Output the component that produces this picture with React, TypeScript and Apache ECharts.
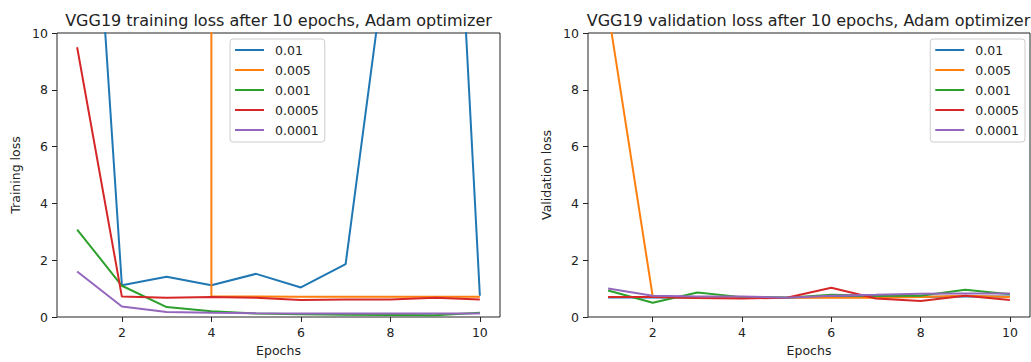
import React, { useEffect, useRef } from "react";
import * as echarts from "echarts";

const epochs = [1, 2, 3, 4, 5, 6, 7, 8, 9, 10];
const rates = ["0.01", "0.005", "0.001", "0.0005", "0.0001"];
const colors = ["#1f77b4", "#ff7f0e", "#2ca02c", "#d62728", "#9467bd"];
const xTicks = [2, 4, 6, 8, 10];

// Training loss per learning rate
const train001 = [25, 1.12, 1.42, 1.12, 1.52, 1.04, 1.86, 13.8, 30.7, 0.75];
const train0005 = [350000, 220000, 120000, 0.72, 0.72, 0.71, 0.71, 0.71, 0.71, 0.71];
const train0001 = [3.08, 1.1, 0.35, 0.2, 0.12, 0.1, 0.08, 0.07, 0.06, 0.15];
const train00005 = [9.5, 0.72, 0.68, 0.7, 0.68, 0.6, 0.62, 0.62, 0.68, 0.62];
const train00001 = [1.6, 0.37, 0.18, 0.15, 0.13, 0.12, 0.12, 0.12, 0.12, 0.12];

// Validation loss per learning rate
const val001 = [0.69, 0.69, 0.69, 0.69, 0.69, 0.7, 0.7, 0.7, 0.72, 0.72];
const val0005 = [10.8, 0.72, 0.68, 0.68, 0.68, 0.68, 0.68, 0.7, 0.75, 0.7];
const val0001 = [0.93, 0.5, 0.86, 0.7, 0.68, 0.78, 0.75, 0.75, 0.96, 0.8];
const val00005 = [0.7, 0.7, 0.67, 0.65, 0.68, 1.03, 0.65, 0.56, 0.75, 0.6];
const val00001 = [1.0, 0.75, 0.72, 0.72, 0.68, 0.75, 0.78, 0.82, 0.83, 0.83];

const trainSeries = [train001, train0005, train0001, train00005, train00001];
const valSeries = [val001, val0005, val0001, val00005, val00001];

const FONT = "DejaVu Sans";
const TXT = "#222";

function makeXAxis(gridIndex: number) {
  return {
    gridIndex,
    type: "value",
    min: 0.55,
    max: 10.45,
    name: "Epochs",
    nameLocation: "middle",
    nameGap: 27,
    nameTextStyle: { fontFamily: FONT, fontSize: 12.5, color: TXT },
    axisLine: { show: false },
    axisTick: { show: true, length: 5, lineStyle: { color: TXT }, customValues: xTicks },
    axisLabel: { customValues: xTicks, fontFamily: FONT, fontSize: 12.5, color: TXT, margin: 9 },
    splitLine: { show: false },
  };
}

function makeYAxis(gridIndex: number, name: string) {
  return {
    gridIndex,
    type: "value",
    min: 0,
    max: 10,
    interval: 2,
    name,
    nameLocation: "middle",
    nameGap: 35,
    nameTextStyle: { fontFamily: FONT, fontSize: 12.5, color: TXT },
    axisLine: { show: false },
    axisTick: { show: true, length: 5, lineStyle: { color: TXT } },
    axisLabel: { fontFamily: FONT, fontSize: 12.5, color: TXT, margin: 9 },
    splitLine: { show: false },
  };
}

function makeLegend(pos: any) {
  return {
    ...pos,
    top: 39,
    orient: "vertical",
    data: rates,
    icon: "rect",
    itemWidth: 29,
    itemHeight: 2,
    itemGap: 6,
    padding: [4, 6, 5, 5],
    backgroundColor: "rgba(255,255,255,0.8)",
    borderColor: "#cccccc",
    borderWidth: 1,
    borderRadius: 3,
    textStyle: { fontFamily: FONT, fontSize: 12.5, color: TXT, lineHeight: 14, padding: [0, 0, 0, 6] },
  };
}

function makeTitle(text: string, centerX: number) {
  return {
    text,
    left: centerX,
    top: 11,
    padding: 0,
    textAlign: "center",
    textStyle: { fontFamily: FONT, fontSize: 16, lineHeight: 18, fontWeight: "normal", color: TXT },
  };
}

export default function App() {
  const ref = useRef<HTMLDivElement>(null);
  useEffect(() => {
    if (!ref.current) return;
    const chart = echarts.init(ref.current, null, { renderer: "svg" });
    const series: any[] = [];
    trainSeries.forEach((arr, i) => {
      series.push({
        name: rates[i],
        type: "line",
        xAxisIndex: 0,
        yAxisIndex: 0,
        data: epochs.map((e, k) => [e, arr[k]]),
        showSymbol: false,
        symbol: "none",
        clip: true,
        lineStyle: { color: colors[i], width: 2 },
        itemStyle: { color: colors[i] },
      });
    });
    valSeries.forEach((arr, i) => {
      series.push({
        name: rates[i],
        type: "line",
        xAxisIndex: 1,
        yAxisIndex: 1,
        data: epochs.map((e, k) => [e, arr[k]]),
        showSymbol: false,
        symbol: "none",
        clip: true,
        lineStyle: { color: colors[i], width: 2 },
        itemStyle: { color: colors[i] },
      });
    });
    chart.setOption({
      animation: false,
      backgroundColor: "#fff",
      title: [
        makeTitle("VGG19 training loss after 10 epochs, Adam optimizer", 278.5),
        makeTitle("VGG19 validation loss after 10 epochs, Adam optimizer", 808.5),
      ],
      grid: [
        { left: 57, top: 33, width: 443, height: 288, show: true, borderColor: TXT, borderWidth: 1, backgroundColor: "transparent" },
        { left: 588, top: 33, width: 442, height: 288, show: true, borderColor: TXT, borderWidth: 1, backgroundColor: "transparent" },
      ],
      xAxis: [makeXAxis(0), makeXAxis(1)],
      yAxis: [makeYAxis(0, "Training loss"), makeYAxis(1, "Validation loss")],
      legend: [makeLegend({ left: 230 }), makeLegend({ right: 6 })],
      series,
    });
    return () => chart.dispose();
  }, []);
  return (
    <div
      ref={ref}
      style={{ position: "fixed", left: 0, top: 0, width: 1031, height: 362 }}
    />
  );
}
